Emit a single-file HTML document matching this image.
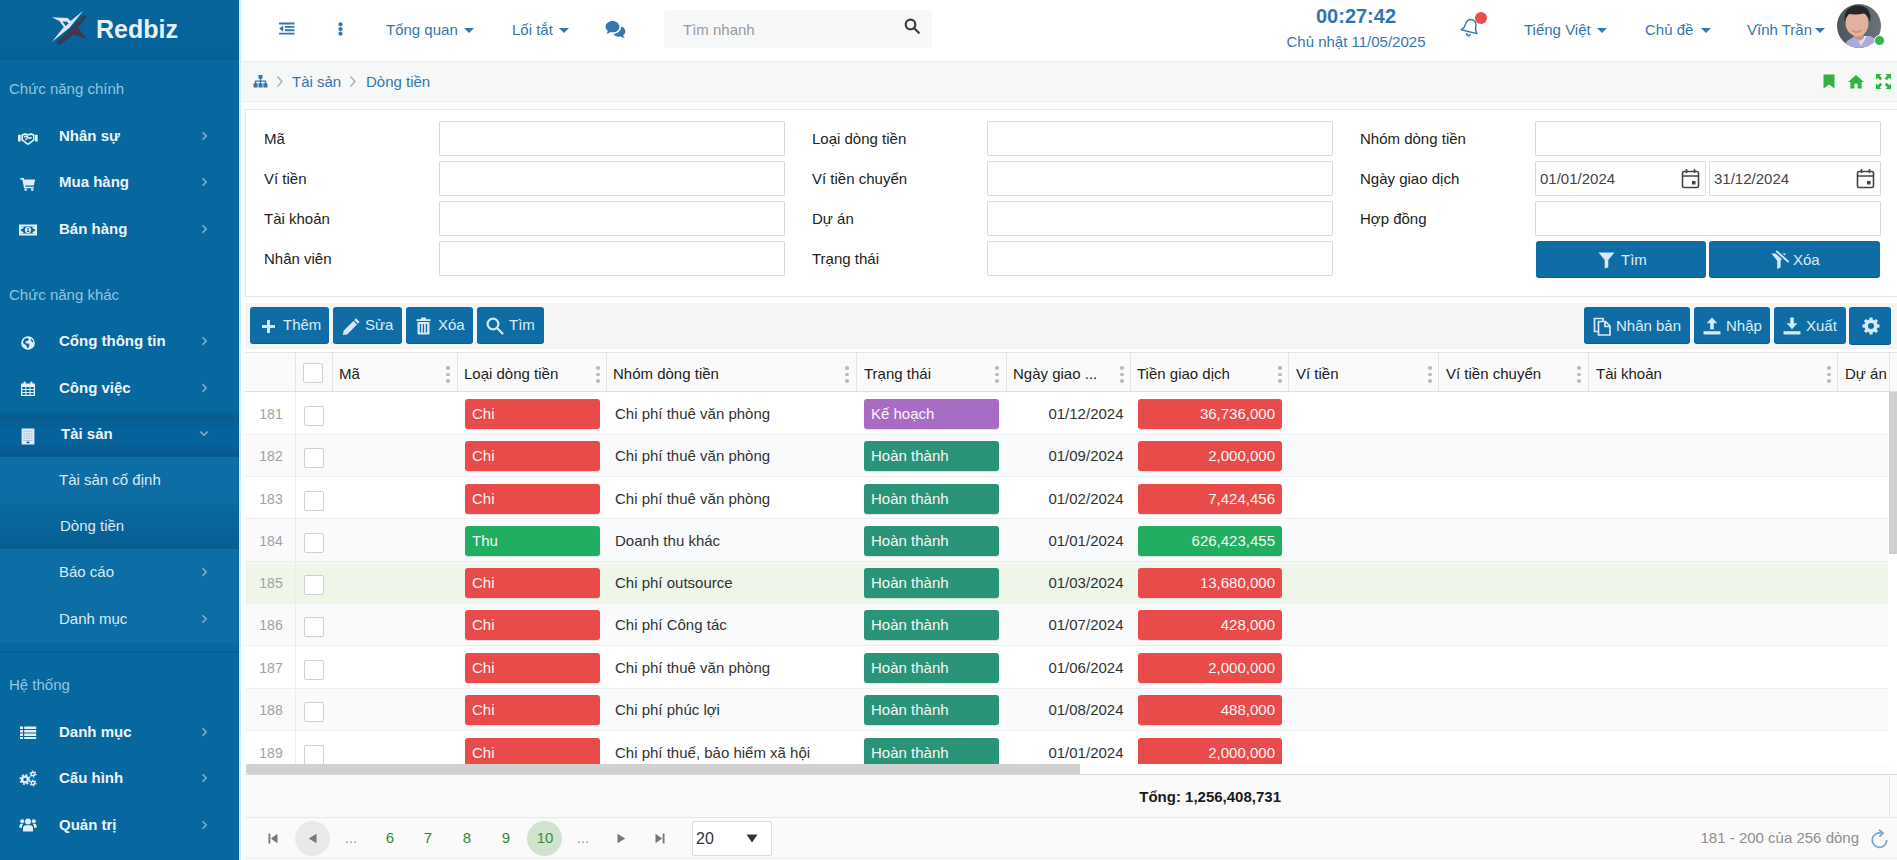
<!DOCTYPE html>
<html lang="vi">
<head>
<meta charset="utf-8">
<title>Redbiz - Dòng tiền</title>
<style>
*{box-sizing:border-box;margin:0;padding:0}
html,body{width:1897px;height:860px;overflow:hidden}
body{font-family:"Liberation Sans",sans-serif;font-size:15px;color:#222;background:#fff;position:relative}
.abs{position:absolute}
/* ---------- sidebar ---------- */
#side{position:absolute;left:0;top:0;width:239px;height:860px;background:#06689f;color:#fff;overflow:hidden}
#side .brand{position:absolute;left:0;top:0;width:239px;height:60px;background:linear-gradient(#06659c 0,#06649b 70%,#075f94 100%)}
#side .brand .name{position:absolute;left:96px;top:14px;font-size:25px;font-weight:bold;color:#e6f1f8;line-height:30px}
#side .sec{position:absolute;left:9px;font-size:15px;color:#93c4e0;line-height:18px;white-space:nowrap}
#side .mi{position:absolute;left:0;width:239px;height:46px}
#side .mi .t{position:absolute;left:59px;top:13px;font-size:15px;font-weight:bold;line-height:20px;color:#eef5fa;white-space:nowrap}
#side .mi.sub .t{font-weight:normal;color:#dbe9f3}
#side .mi svg.ic{position:absolute;left:18px;top:14px;width:20px;height:18px;fill:#e3eef6}
#side .mi svg.ch{position:absolute;left:200px;top:17px;width:9px;height:12px;fill:none;stroke:#7fb0cf;stroke-width:1.6}
#side .act{background:linear-gradient(#07659b 0,#065c90 14%,#06629a 38%,#06629a 68%,#065a8e 100%)}
#side .sub.act{background:linear-gradient(#0a699f 0,#08649b 50%,#065d91 100%)}
#side .subbg{position:absolute;left:0;width:239px;background:#0c6ea4}
/* ---------- topbar ---------- */
#top{position:absolute;left:239px;top:0;width:1658px;height:62px;background:#fff;border-bottom:1px solid #e9ebec}
#top .lnk{position:absolute;top:20px;font-size:15px;color:#3576b0;line-height:20px;white-space:nowrap}
#top .car{display:inline-block;width:0;height:0;border-left:5px solid transparent;border-right:5px solid transparent;border-top:5px solid #3576b0;margin-left:6px;vertical-align:2px}
#crumb{position:absolute;left:239px;top:62px;width:1658px;height:40px;background:#f6f7f7;border-bottom:1px solid #ebecec}
#crumb .c{position:absolute;top:10px;font-size:15px;color:#3576b0;line-height:20px;white-space:nowrap}
/* ---------- filter ---------- */
#filter{position:absolute;left:245px;top:109px;width:1660px;height:188px;background:#fff;border:1px solid #e4e7e9}
.lb{position:absolute;font-size:15px;line-height:20px;color:#222;white-space:nowrap}
.in{position:absolute;height:35px;background:#fff;border:1px solid #d9dbdd;border-radius:1px;font-size:15px;line-height:33px;color:#444;padding-left:4px}
.btn{position:absolute;background:#0e6da4;border-radius:3px;color:#dcecf6;font-size:15px;line-height:20px;white-space:nowrap;box-shadow:0 1px 0 #0a5d8e}
.btn span{position:absolute;top:8px}
.btn svg{position:absolute;fill:#d6e8f4}
/* ---------- grid ---------- */
#ghead{position:absolute;left:245px;top:352px;width:1652px;height:40px;background:#fafafa;border-top:1px solid #e3e5e6;border-bottom:1px solid #dcdfe0}
.h{position:absolute;top:364px;font-size:15px;line-height:20px;color:#222;white-space:nowrap}
.sp{position:absolute;top:353px;width:1px;height:38px;background:#e2e4e5}
.dt{position:absolute;top:366px;width:3px;height:16px}
.dt i{position:absolute;left:-0.250px;width:3.500px;height:3.500px;border-radius:50%;background:#bababa}
.cb{position:absolute;width:20px;height:20px;background:#fff;border:1px solid #d0d0d0;border-radius:2px}
#rows{position:absolute;left:245px;top:392px;width:1643px;height:372px;overflow:hidden;background:#fff}
.row{position:absolute;left:0;width:1644px;border-bottom:1px solid #edeff0;font-size:15px;line-height:20px;color:#333}
.row.alt{background:#f8fafc}
.row.sel{background:linear-gradient(#f3f8f0 0,#eef6ea 25%,#eef6ea 100%)}
.row .n{position:absolute;left:1px;top:12px;width:50px;text-align:center;color:#a2a2a2;font-size:14px}
.row .nb{position:absolute;left:50px;top:0;width:1px;height:43px;background:#ebedef}
.row .tag{position:absolute;top:7px;height:30px;border-radius:3px;color:#f6f6f6;line-height:30px;padding:0 7px;box-shadow:0 1px 1px rgba(0,0,0,.12)}
.row .tx{position:absolute;top:12px;white-space:nowrap}
.red{background:#e94b4b}.grn{background:#22ae60}.pur{background:#a86cc4}.teal{background:#2a9478}
/* ---------- pager ---------- */
#pager{position:absolute;left:0;top:819px;width:1897px;height:41px;font-size:15px;line-height:20px}
#pager .pn{position:absolute;top:9px;width:36px;text-align:center;color:#2e8b3a;font-size:15px}
#pager .dots{position:absolute;top:9px;width:36px;text-align:center;color:#999}
#pager .circ{position:absolute;top:1.500px;width:35px;height:35px;border-radius:50%}
#pager svg{position:absolute;fill:#777}
</style>
</head>
<body>
<div id="side">
  <div class="brand">
    <svg class="abs" style="left:51px;top:10px" width="38" height="37" viewBox="0 0 38 37">
      <path d="M33.500 5.500 L35.800 6 L27 18 L36.400 29.800 L22.700 24.500 L8.600 35.300 L6 33.500 Z" fill="#3c3a4c"/>
      <path d="M4.500 32.500 L32.500 4.500 L34 5.500 L6.500 33.800 Z" fill="#114f6e"/>
      <path d="M0.800 7.200 L16.600 8 L19.600 11 L32.200 0.800 L18.500 17.800 L1 31.800 L12.800 17 L8.400 11 Z" fill="#dfe5ee"/>
      <path d="M11.500 11.600 L16.200 11.800 L17.600 13.400 L14.600 16 Z" fill="#06649b"/>
    </svg>
    <div class="name">Redbiz</div>
  </div>
  <div class="mi" style="top:113px"><svg class="ic" style="top:14.5px" viewBox="0 0 20 18"><path d="M0 6.800h2.700v6.600H0z M17 6.800h2.700v6.600H17z"/><path d="M3.300 6.600 L7 5.100 L10 5.900 L13 5.100 L16.500 6.600 V12.200 L11.600 16.200 Q10 17.300 8.400 16.200 L3.300 12.200 Z M5 7.800 V11.400 L9.400 14.900 Q10 15.300 10.600 14.900 L15 11.400 V7.800 L13 6.900 L10 7.700 L7 6.900 Z" fill-rule="evenodd"/><path d="M6.200 9.200 Q8 7.200 9.800 9.200 T13.600 9.200" fill="none" stroke="#e3eef6" stroke-width="1.500"/><path d="M9.800 9.200 L7.600 12" fill="none" stroke="#e3eef6" stroke-width="1.300"/></svg><div class="t">Nhân sự</div><svg class="ch" viewBox="0 0 9 12"><path d="M2.500 2.300 L6.200 6 L2.500 9.700"/></svg></div>
  <div class="mi" style="top:159px"><svg class="ic" viewBox="0 0 20 18"><path d="M2.200 5h3.500l.5 1.600H17.200l-1.400 5.900H7.300l.3 1.200h8.200v1.500H6.100L4.300 6.600H2.200z"/><rect x="6.400" y="15.400" width="2.500" height="2.300" rx=".6"/><rect x="13" y="15.400" width="2.500" height="2.300" rx=".6"/></svg><div class="t">Mua hàng</div><svg class="ch" viewBox="0 0 9 12"><path d="M2.500 2.300 L6.200 6 L2.500 9.700"/></svg></div>
  <div class="mi" style="top:206px"><svg class="ic" style="top:14.5px" viewBox="0 0 20 18"><path d="M1 3.500h18v11H1z M3 5.500v7h14v-7z" fill-rule="evenodd"/><path d="M3 5.500h2.600a2.600 2.600 0 0 1-2.600 2.600z M17 5.500h-2.600a2.600 2.600 0 0 0 2.600 2.600z M3 12.500h2.600a2.600 2.600 0 0 0-2.600-2.600z M17 12.500h-2.600a2.600 2.600 0 0 1 2.600-2.600z"/><path d="M10 5.900a3.100 3.100 0 1 0 0 6.200a3.100 3.100 0 1 0 0-6.200z M9.100 7.600l.9-.5h.6v3h.7v.8H8.900v-.8h.8V8.200l-.6.300z" fill-rule="evenodd"/></svg><div class="t">Bán hàng</div><svg class="ch" viewBox="0 0 9 12"><path d="M2.500 2.300 L6.200 6 L2.500 9.700"/></svg></div>
  <div class="mi" style="top:318px"><svg class="ic" style="top:16px" viewBox="0 0 20 18"><path d="M10 2.200a6.800 6.800 0 1 0 0 13.600a6.800 6.800 0 1 0 0-13.600z M7 4.500 L9.500 4 L11 5.500 L9.500 7 L8.200 7 L7.200 8.400 L8.600 9.600 L10.500 9.600 L11.600 11 L10.600 13.600 L9.400 14.200 L8.600 12 L7.400 10.800 L5.400 9.600 L5 7.400 Z M12.600 4.400 L14.800 6.200 L15.400 8.600 L14 8 L13 6.400 Z" fill-rule="evenodd"/></svg><div class="t">Cổng thông tin</div><svg class="ch" viewBox="0 0 9 12"><path d="M2.500 2.300 L6.200 6 L2.500 9.700"/></svg></div>
  <div class="mi" style="top:365px"><svg class="ic" style="top:14.5px" viewBox="0 0 20 18"><path d="M3 3.600h14V16H3z M4.300 7h3v2.100h-3z M8.300 7h3.200v2.100H8.300z M12.500 7h3.200v2.100h-3.200z M4.300 10h3v2.100h-3z M8.300 10h3.200v2.100H8.300z M12.500 10h3.200v2.100h-3.200z M4.300 13h3v1.800h-3z M8.300 13h3.200v1.800H8.300z M12.500 13h3.200v1.800h-3.200z" fill-rule="evenodd"/><rect x="5.600" y="1.400" width="2" height="4" rx="1"/><rect x="12.400" y="1.400" width="2" height="4" rx="1"/></svg><div class="t">Công việc</div><svg class="ch" viewBox="0 0 9 12"><path d="M2.500 2.300 L6.200 6 L2.500 9.700"/></svg></div>
  <div class="mi act" style="top:411px"><svg class="ic" style="top:15.5px" viewBox="0 0 20 18"><rect x="3.600" y="1.500" width="12.800" height="16" rx=".5"/><rect x="5.3" y="3.4" width="1.700" height="1.500" fill="#08619a" fill-opacity=".28"/><rect x="7.8" y="3.4" width="1.700" height="1.500" fill="#08619a" fill-opacity=".28"/><rect x="10.3" y="3.4" width="1.700" height="1.500" fill="#08619a" fill-opacity=".28"/><rect x="12.8" y="3.4" width="1.700" height="1.500" fill="#08619a" fill-opacity=".28"/><rect x="5.3" y="5.8" width="1.700" height="1.500" fill="#08619a" fill-opacity=".28"/><rect x="7.8" y="5.8" width="1.700" height="1.500" fill="#08619a" fill-opacity=".28"/><rect x="10.3" y="5.8" width="1.700" height="1.500" fill="#08619a" fill-opacity=".28"/><rect x="12.8" y="5.8" width="1.700" height="1.500" fill="#08619a" fill-opacity=".28"/><rect x="5.3" y="8.2" width="1.700" height="1.500" fill="#08619a" fill-opacity=".28"/><rect x="7.8" y="8.2" width="1.700" height="1.500" fill="#08619a" fill-opacity=".28"/><rect x="10.3" y="8.2" width="1.700" height="1.500" fill="#08619a" fill-opacity=".28"/><rect x="12.8" y="8.2" width="1.700" height="1.500" fill="#08619a" fill-opacity=".28"/><rect x="5.3" y="10.6" width="1.700" height="1.500" fill="#08619a" fill-opacity=".28"/><rect x="7.8" y="10.6" width="1.700" height="1.500" fill="#08619a" fill-opacity=".28"/><rect x="10.3" y="10.6" width="1.700" height="1.500" fill="#08619a" fill-opacity=".28"/><rect x="12.8" y="10.6" width="1.700" height="1.500" fill="#08619a" fill-opacity=".28"/><rect x="5.300" y="13" width="9.200" height=".9" fill="#08619a" fill-opacity=".3"/><rect x="8.600" y="14.600" width="2.800" height="1.600" fill="#08619a"/></svg><div class="t" style="left:61px">Tài sản</div><svg class="ch" style="left:198px;top:18px;width:12px;height:9px" viewBox="0 0 12 9"><path d="M2.300 2.500 L6 6.200 L9.700 2.500"/></svg></div>
  <div class="subbg" style="top:457px;height:186px"></div>
  <div class="mi sub" style="top:457px"><div class="t">Tài sản cố định</div></div>
  <div class="mi sub act" style="top:503px"><div class="t" style="left:60px">Dòng tiền</div></div>
  <div class="mi sub" style="top:549px"><div class="t">Báo cáo</div><svg class="ch" viewBox="0 0 9 12"><path d="M2.500 2.300 L6.200 6 L2.500 9.700"/></svg></div>
  <div class="mi sub" style="top:596px"><div class="t">Danh mục</div><svg class="ch" viewBox="0 0 9 12"><path d="M2.500 2.300 L6.200 6 L2.500 9.700"/></svg></div>
  <div class="abs" style="left:0;top:651px;width:239px;height:2px;background:#075f95"></div>
  <div class="mi" style="top:709px"><svg class="ic" viewBox="0 0 20 18"><path d="M2 3.400h3v2.600H2z M6.200 3.400h12v2.600h-12z M2 6.900h3v2.600H2z M6.200 6.900h12v2.600h-12z M2 10.400h3V13H2z M6.200 10.400h12V13h-12z M2 13.900h3v2.200H2z M6.200 13.900h12v2.200h-12z"/></svg><div class="t">Danh mục</div><svg class="ch" viewBox="0 0 9 12"><path d="M2.500 2.300 L6.200 6 L2.500 9.700"/></svg></div>
  <div class="mi" style="top:755px"><svg class="ic" viewBox="0 0 20 18" style="fill:none;stroke:#e3eef6"><circle cx="7" cy="10.500" r="2.900" stroke-width="2.400"/><circle cx="7" cy="10.500" r="4.700" stroke-width="1.700" stroke-dasharray="1.900 1.790"/><circle cx="15" cy="5" r="1.700" stroke-width="1.500"/><circle cx="15" cy="5" r="2.900" stroke-width="1.300" stroke-dasharray="1.500 1.540"/><circle cx="15" cy="14" r="1.700" stroke-width="1.500"/><circle cx="15" cy="14" r="2.900" stroke-width="1.300" stroke-dasharray="1.500 1.540"/></svg><div class="t">Cấu hình</div><svg class="ch" viewBox="0 0 9 12"><path d="M2.500 2.300 L6.200 6 L2.500 9.700"/></svg></div>
  <div class="mi" style="top:802px"><svg class="ic" viewBox="0 0 20 18"><circle cx="10" cy="5.400" r="3"/><path d="M5 15.600v-3.200Q5 9.200 8 9.200h4q3 0 3 3.200v3.200z"/><circle cx="4.200" cy="5.200" r="2"/><circle cx="15.800" cy="5.200" r="2"/><path d="M1.400 11.800V10Q1.400 7.800 3.400 7.800h1.800Q4 9 4 11v.8z M18.600 11.800V10Q18.600 7.800 16.600 7.800h-1.800Q16 9 16 11v.8z"/></svg><div class="t">Quản trị</div><svg class="ch" viewBox="0 0 9 12"><path d="M2.500 2.300 L6.200 6 L2.500 9.700"/></svg></div>
  <div class="sec" style="top:80px">Chức năng chính</div>
  <div class="sec" style="top:286px">Chức năng khác</div>
  <div class="sec" style="top:676px">Hệ thống</div>
</div>
<div class="abs" style="left:239px;top:0;width:1.500px;height:860px;background:#cdeffd;z-index:5"></div>
<div id="top">
  <svg class="abs" style="left:40px;top:22px" width="15.500" height="13" viewBox="0 0 17 14" fill="#3576b0"><path d="M0 0.500h17v2H0z M6.500 4.200h10.500v2H6.500z M6.500 7.900h10.500v2H6.500z M0 11.600h17v2H0z M4.600 3.600v6.900L0.300 7z"/></svg>
  <svg class="abs" style="left:98.500px;top:22px" width="5" height="14" viewBox="0 0 5 14" fill="#3576b0"><circle cx="2.500" cy="2.300" r="2.100"/><circle cx="2.500" cy="7" r="2.100"/><circle cx="2.500" cy="11.700" r="2.100"/></svg>
  <div class="lnk" style="left:147px">Tổng quan<span class="car"></span></div>
  <div class="lnk" style="left:273px">Lối tắt<span class="car"></span></div>
  <svg class="abs" style="left:366px;top:20px" width="21" height="20" viewBox="0 0 21 17.500" preserveAspectRatio="none" fill="#3576b0"><path d="M7.500 0.800C3.600 0.800 0.600 3 0.600 5.800c0 1.500 .9 2.800 2.300 3.700-.2 .9-.8 1.700-1.500 2.300 1.500 0 2.900-.6 3.900-1.400 .7 .2 1.400 .3 2.200 .3 3.900 0 6.900-2.200 6.900-4.900S11.400 .800 7.500 .800z"/><path d="M16 6.400c0 3.200-3.400 5.700-7.800 5.900 1.200 1.400 3.300 2.300 5.600 2.300 .7 0 1.400-.1 2-.3 1 .9 2.400 1.500 3.900 1.500-.7-.6-1.300-1.500-1.500-2.400 1.300-.8 2.100-2 2.100-3.400 0-1.700-1.200-3.200-3-4 .1 .1-.1 .3-1.300 .4z"/></svg>
  <div class="abs" style="left:425px;top:10px;width:268px;height:38px;background:#f6f7f7;border-radius:3px"></div>
  <div class="abs" style="left:444px;top:20px;font-size:15px;line-height:20px;color:#9a9a9a">Tìm nhanh</div>
  <svg class="abs" style="left:665px;top:18px" width="16" height="16" viewBox="0 0 16 16" fill="none" stroke="#3d3d3d" stroke-width="2.200"><circle cx="6.500" cy="6.500" r="4.800"/><path d="M10 10 L14.800 14.800" stroke-linecap="round"/></svg>
  <div class="abs" style="left:1017px;top:3px;width:200px;text-align:center;font-size:20px;font-weight:bold;line-height:26px;color:#2e75b6">00:27:42</div>
  <div class="abs" style="left:1017px;top:33px;width:200px;text-align:center;font-size:15px;line-height:18px;color:#3576b0">Chủ nhật 11/05/2025</div>
  <svg class="abs" style="left:1220px;top:17px" width="22" height="22" viewBox="0 0 22 22" fill="none" stroke="#3576b0" stroke-width="1.500" stroke-linejoin="round"><g transform="rotate(14 11 11)"><path d="M11 2.500c-3.200 0-5.200 2.400-5.200 5.600 0 3.600-1.200 5.200-2.800 6.700h16c-1.600-1.500-2.800-3.100-2.800-6.700 0-3.200-2-5.600-5.200-5.600z"/><path d="M9 16.800a2 2 0 0 0 4 0" /></g></svg>
  <div class="abs" style="left:1236px;top:12px;width:12px;height:12px;border-radius:50%;background:#ee4b4b"></div>
  <div class="lnk" style="left:1285px">Tiếng Việt<span class="car"></span></div>
  <div class="lnk" style="left:1406px">Chủ đề<span class="car" style="margin-left:7.500px"></span></div>
  <div class="lnk" style="left:1508px">Vĩnh Trần<span class="car" style="margin-left:3px"></span></div>
  <svg class="abs" style="left:1597px;top:3px" width="46" height="46" viewBox="0 0 46 46">
    <defs><clipPath id="av"><circle cx="23" cy="23" r="22"/></clipPath>
    <linearGradient id="avb" x1="0" x2="1"><stop offset="0" stop-color="#4c555b"/><stop offset="1" stop-color="#6a7379"/></linearGradient></defs>
    <g clip-path="url(#av)">
      <rect width="46" height="46" fill="url(#avb)"/>
      <path d="M8 46 L11 38 L19 33 L34 33 L42 37 L45 46 Z" fill="#a9abd9"/>
      <path d="M20 33 L25 43 L31 33 Z" fill="#dcdff0"/>
      <path d="M16.500 26 L27 26 L28 35 L24 38 L18 34 Z" fill="#c9917c"/>
      <ellipse cx="21" cy="20" rx="11.500" ry="13.500" fill="#e2b09c" transform="rotate(-6 21 20)"/>
      <path d="M9 19 Q6.500 5 20 2.500 Q33 1.500 34.500 13 L34 19 Q32 12 28 10.500 Q20 12 13 11 Q10 14 9 19z" fill="#25262b"/>
      <path d="M16 27.500 Q21 31 26 27" fill="none" stroke="#b9776a" stroke-width="1"/>
    </g>
  </svg>
  <div class="abs" style="left:1635px;top:34.500px;width:11px;height:11px;border-radius:50%;background:#2fb552;border:1px solid #fff"></div>
</div>
<div id="crumb">
  <svg class="abs" style="left:14px;top:13px" width="15" height="13" viewBox="0 0 16 14" fill="#3576b0"><path d="M5.800 0h4.400v4H8.700v1.800h5.400V9H15.500v4.500h-4.400V9h1.500V7.200H8.700V9h1.500v4.500H5.800V9h1.500V7.200H3.400V9h1.500v4.500H.5V9h1.500V5.800h5.300V4H5.800z"/></svg>
  <svg class="abs" style="left:37px;top:13px" width="8" height="13" viewBox="0 0 8 13" fill="none" stroke="#a9b1b6" stroke-width="1.400"><path d="M1.500 1.500 L6 6.500 L1.500 11.500"/></svg>
  <div class="c" style="left:53px">Tài sản</div>
  <svg class="abs" style="left:110px;top:13px" width="8" height="13" viewBox="0 0 8 13" fill="none" stroke="#a9b1b6" stroke-width="1.400"><path d="M1.500 1.500 L6 6.500 L1.500 11.500"/></svg>
  <div class="c" style="left:127px">Dòng tiền</div>
  <svg class="abs" style="left:1584px;top:12px" width="12" height="15" viewBox="0 0 12 15" fill="#2fb344"><path d="M0.500 0.500h11v14L6 10.500 0.500 14.500z"/></svg>
  <svg class="abs" style="left:1609px;top:11.500px" width="16" height="15" viewBox="0 0 17 15" fill="#2fb344"><path d="M8.500 0.500 L17 8 H14.500 V15 H10.300 V10 H6.700 V15 H2.500 V8 H0 Z"/></svg>
  <svg class="abs" style="left:1637px;top:12px" width="15" height="15" viewBox="0 0 15 15" fill="#2fb344"><path d="M0 0h5.500L3.700 1.800 6.200 4.300 4.300 6.200 1.800 3.700 0 5.500z M15 0v5.500L13.200 3.700 10.700 6.200 8.800 4.300 11.300 1.800 9.500 0z M0 15V9.500L1.800 11.300 4.300 8.800 6.200 10.700 3.700 13.200 5.500 15z M15 15H9.500L11.300 13.200 8.800 10.700 10.700 8.800 13.200 11.300 15 9.500z"/></svg>
</div>
<div id="filter">
<div class="lb" style="left:18px;top:19px">Mã</div><div class="in" style="left:193px;top:11px;width:346px"></div>
<div class="lb" style="left:18px;top:59px">Ví tiền</div><div class="in" style="left:193px;top:51px;width:346px"></div>
<div class="lb" style="left:18px;top:99px">Tài khoản</div><div class="in" style="left:193px;top:91px;width:346px"></div>
<div class="lb" style="left:18px;top:139px">Nhân viên</div><div class="in" style="left:193px;top:131px;width:346px"></div>
<div class="lb" style="left:566px;top:19px">Loại dòng tiền</div><div class="in" style="left:741px;top:11px;width:346px"></div>
<div class="lb" style="left:566px;top:59px">Ví tiền chuyển</div><div class="in" style="left:741px;top:51px;width:346px"></div>
<div class="lb" style="left:566px;top:99px">Dự án</div><div class="in" style="left:741px;top:91px;width:346px"></div>
<div class="lb" style="left:566px;top:139px">Trạng thái</div><div class="in" style="left:741px;top:131px;width:346px"></div>
<div class="lb" style="left:1114px;top:19px">Nhóm dòng tiền</div><div class="in" style="left:1289px;top:11px;width:346px"></div>
<div class="lb" style="left:1114px;top:59px">Ngày giao dịch</div><div class="in" style="left:1289px;top:51px;width:171px">01/01/2024</div><div class="in" style="left:1463px;top:51px;width:172px">31/12/2024</div>
<div class="lb" style="left:1114px;top:99px">Hợp đồng</div><div class="in" style="left:1289px;top:91px;width:346px"></div>
<svg class="abs" style="left:1435px;top:58px" width="19" height="21" viewBox="0 0 19 21" fill="none" stroke="#444" stroke-width="1.600"><rect x="1.500" y="3.500" width="16" height="16" rx="1.500"/><path d="M1.500 8h16 M5.500 1v4 M13.500 1v4"/><rect x="11" y="13" width="3.500" height="3.500" fill="#444" stroke="none"/></svg><svg class="abs" style="left:1610px;top:58px" width="19" height="21" viewBox="0 0 19 21" fill="none" stroke="#444" stroke-width="1.600"><rect x="1.500" y="3.500" width="16" height="16" rx="1.500"/><path d="M1.500 8h16 M5.500 1v4 M13.500 1v4"/><rect x="11" y="13" width="3.500" height="3.500" fill="#444" stroke="none"/></svg>
<div class="btn" style="left:1290px;top:131px;width:170px;height:36px"><svg style="left:62px;top:11px" width="17" height="17" viewBox="0 0 17 17"><path d="M0.500 0.500h16L10.300 8v7.200l-3.600 1.300V8z"/></svg><span style="left:85px;top:8.500px">Tìm</span></div>
<div class="btn" style="left:1463px;top:131px;width:171px;height:36px"><svg style="left:61px;top:9px;overflow:visible" width="19" height="19" viewBox="0 0 19 19"><path d="M1.300 3.400h14.800L10.600 10.800v6.600l-3.400 1.600V10.800z"/><path d="M5.800 0.600 L18.600 12" stroke="#0e6da4" stroke-width="4.600" fill="none"/><path d="M6.300 1 L18.600 12" stroke="#d6e8f4" stroke-width="1.900" fill="none"/></svg><span style="left:84px;top:8.500px">Xóa</span></div>
</div>
<div class="abs" style="left:245px;top:303px;width:1652px;height:46px;background:#f4f5f5"></div>
<div class="btn" style="left:250px;top:307px;width:79px;height:36px"><svg style="left:12px;top:13px" width="13" height="13" viewBox="0 0 13 13"><path d="M5 0h3v5h5v3H8v5H5V8H0V5h5z"/></svg><span style="left:33px;top:8px">Thêm</span></div>
<div class="btn" style="left:333px;top:307px;width:69px;height:36px"><svg style="left:9px;top:9.5px" width="19" height="19" viewBox="0 0 17 17"><path d="M12.600 1.200 L15.800 4.400 L14.200 6 L11 2.800z M10.200 3.600 L13.400 6.800 L4.600 15.600 L0.800 16.200 L1.400 12.400z"/></svg><span style="left:32px;top:8px">Sửa</span></div>
<div class="btn" style="left:406px;top:307px;width:67px;height:36px"><svg style="left:10px;top:10px" width="15" height="18" viewBox="0 0 15 18"><path d="M5 0.500h5v1.700h4.500v1.800H0.500V2.200H5z M1.500 5h12v11.500q0 1-1 1h-10q-1 0-1-1z M3.800 7v8.500h1.300V7z M6.800 7v8.500h1.300V7z M9.800 7v8.500h1.300V7z" fill-rule="evenodd"/></svg><span style="left:32px;top:8px">Xóa</span></div>
<div class="btn" style="left:477px;top:307px;width:67px;height:36px"><svg style="left:9px;top:10px;fill:none;stroke:#d6e8f4;stroke-width:2.200" width="18" height="18" viewBox="0 0 18 18"><circle cx="7" cy="7" r="5.400"/><path d="M11 11 L16.500 16.500" stroke-linecap="round"/></svg><span style="left:32px;top:8px">Tìm</span></div>
<div class="btn" style="left:1584px;top:307px;width:106px;height:36px"><svg style="left:9px;top:9.5px;fill:none;stroke:#d6e8f4;stroke-width:1.700" width="19" height="19" viewBox="0 0 19 19"><path d="M5 14.500H1.500V1.500H10V4"/><path d="M5.500 4.500h7l4.500 4.500v9h-11.500z M12 4.500v5h5"/></svg><span style="left:32px;top:9px">Nhân bản</span></div>
<div class="btn" style="left:1694px;top:307px;width:76px;height:36px"><svg style="left:9px;top:10px" width="18" height="18" viewBox="0 0 17 17"><path d="M8.500 0.500 L13.500 6 H10.200 V11.500 H6.800 V6 H3.500z M0.500 13.500h16v3h-16z"/></svg><span style="left:32px;top:9px">Nhập</span></div>
<div class="btn" style="left:1774px;top:307px;width:72px;height:36px"><svg style="left:9px;top:10px" width="18" height="18" viewBox="0 0 17 17"><path d="M6.800 0.500h3.400V6H13.500L8.500 11.500 3.500 6h3.300z M0.500 13.500h16v3h-16z"/></svg><span style="left:32px;top:9px">Xuất</span></div>
<div class="btn" style="left:1849px;top:307px;width:42px;height:37px"><svg style="left:12.5px;top:10px" width="18" height="18" viewBox="0 0 19 19"><path d="M8 0.500h3l.4 2.300 1.500.6 1.900-1.300 2.100 2.100-1.300 1.900.6 1.500 2.300.4v3l-2.300.4-.6 1.500 1.300 1.900-2.100 2.100-1.900-1.300-1.500.6-.4 2.300H8l-.4-2.300-1.500-.6-1.900 1.300-2.100-2.100 1.300-1.900-.6-1.500L.5 11V8l2.300-.4.6-1.500-1.300-1.900 2.100-2.100 1.900 1.300 1.500-.6z M9.500 6.300a3.200 3.200 0 1 0 0 6.400a3.200 3.200 0 1 0 0-6.400z" fill-rule="evenodd"/></svg><span style="left:0px;top:8px"></span></div>
<div id="ghead"></div>
<div class="sp" style="left:295px"></div><div class="sp" style="left:332px"></div><div class="sp" style="left:457px"></div><div class="sp" style="left:606px"></div><div class="sp" style="left:856px"></div><div class="sp" style="left:1006px"></div><div class="sp" style="left:1130px"></div><div class="sp" style="left:1288px"></div><div class="sp" style="left:1438px"></div><div class="sp" style="left:1588px"></div><div class="sp" style="left:1837px"></div><div class="sp" style="left:1889px"></div>
<div class="h" style="left:339px">Mã</div><div class="h" style="left:464px">Loại dòng tiền</div><div class="h" style="left:613px">Nhóm dòng tiền</div><div class="h" style="left:864px">Trạng thái</div><div class="h" style="left:1013px">Ngày giao ...</div><div class="h" style="left:1137px">Tiền giao dịch</div><div class="h" style="left:1296px">Ví tiền</div><div class="h" style="left:1446px">Ví tiền chuyển</div><div class="h" style="left:1596px">Tài khoản</div><div class="h" style="left:1845px">Dự án</div>
<div class="dt" style="left:446.5px"><i style="top:0"></i><i style="top:6.500px"></i><i style="top:13px"></i></div><div class="dt" style="left:596.5px"><i style="top:0"></i><i style="top:6.500px"></i><i style="top:13px"></i></div><div class="dt" style="left:845.5px"><i style="top:0"></i><i style="top:6.500px"></i><i style="top:13px"></i></div><div class="dt" style="left:995.5px"><i style="top:0"></i><i style="top:6.500px"></i><i style="top:13px"></i></div><div class="dt" style="left:1120.5px"><i style="top:0"></i><i style="top:6.500px"></i><i style="top:13px"></i></div><div class="dt" style="left:1278.5px"><i style="top:0"></i><i style="top:6.500px"></i><i style="top:13px"></i></div><div class="dt" style="left:1428.5px"><i style="top:0"></i><i style="top:6.500px"></i><i style="top:13px"></i></div><div class="dt" style="left:1577.5px"><i style="top:0"></i><i style="top:6.500px"></i><i style="top:13px"></i></div><div class="dt" style="left:1827.5px"><i style="top:0"></i><i style="top:6.500px"></i><i style="top:13px"></i></div>
<div class="cb" style="left:303px;top:363px"></div>
<div id="rows">
<div class="row" style="top:0px;height:43px"><div class="n" style="top:12px">181</div><div class="nb"></div><div class="cb" style="left:59px;top:14px"></div><div class="tag red" style="left:220px;top:7px;width:134.500px">Chi</div><div class="tx" style="left:370px;top:12px">Chi phí thuê văn phòng</div><div class="tag pur" style="left:619px;top:7px;width:135px">Kế hoạch</div><div class="tx" style="left:761px;top:12px;width:117.500px;text-align:right">01/12/2024</div><div class="tag red" style="left:893px;top:7px;width:144px;text-align:right">36,736,000</div></div>
<div class="row alt" style="top:43px;height:42px"><div class="n" style="top:11px">182</div><div class="nb"></div><div class="cb" style="left:59px;top:13px"></div><div class="tag red" style="left:220px;top:6px;width:134.500px">Chi</div><div class="tx" style="left:370px;top:11px">Chi phí thuê văn phòng</div><div class="tag teal" style="left:619px;top:6px;width:135px">Hoàn thành</div><div class="tx" style="left:761px;top:11px;width:117.500px;text-align:right">01/09/2024</div><div class="tag red" style="left:893px;top:6px;width:144px;text-align:right">2,000,000</div></div>
<div class="row" style="top:85px;height:42px"><div class="n" style="top:12px">183</div><div class="nb"></div><div class="cb" style="left:59px;top:14px"></div><div class="tag red" style="left:220px;top:7px;width:134.500px">Chi</div><div class="tx" style="left:370px;top:12px">Chi phí thuê văn phòng</div><div class="tag teal" style="left:619px;top:7px;width:135px">Hoàn thành</div><div class="tx" style="left:761px;top:12px;width:117.500px;text-align:right">01/02/2024</div><div class="tag red" style="left:893px;top:7px;width:144px;text-align:right">7,424,456</div></div>
<div class="row alt" style="top:127px;height:43px"><div class="n" style="top:12px">184</div><div class="nb"></div><div class="cb" style="left:59px;top:14px"></div><div class="tag grn" style="left:220px;top:7px;width:134.500px">Thu</div><div class="tx" style="left:370px;top:12px">Doanh thu khác</div><div class="tag teal" style="left:619px;top:7px;width:135px">Hoàn thành</div><div class="tx" style="left:761px;top:12px;width:117.500px;text-align:right">01/01/2024</div><div class="tag grn" style="left:893px;top:7px;width:144px;text-align:right">626,423,455</div></div>
<div class="row sel" style="top:170px;height:42px"><div class="n" style="top:11px">185</div><div class="nb"></div><div class="cb" style="left:59px;top:13px"></div><div class="tag red" style="left:220px;top:6px;width:134.500px">Chi</div><div class="tx" style="left:370px;top:11px">Chi phí outsource</div><div class="tag teal" style="left:619px;top:6px;width:135px">Hoàn thành</div><div class="tx" style="left:761px;top:11px;width:117.500px;text-align:right">01/03/2024</div><div class="tag red" style="left:893px;top:6px;width:144px;text-align:right">13,680,000</div></div>
<div class="row alt" style="top:212px;height:42px"><div class="n" style="top:11px">186</div><div class="nb"></div><div class="cb" style="left:59px;top:13px"></div><div class="tag red" style="left:220px;top:6px;width:134.500px">Chi</div><div class="tx" style="left:370px;top:11px">Chi phí Công tác</div><div class="tag teal" style="left:619px;top:6px;width:135px">Hoàn thành</div><div class="tx" style="left:761px;top:11px;width:117.500px;text-align:right">01/07/2024</div><div class="tag red" style="left:893px;top:6px;width:144px;text-align:right">428,000</div></div>
<div class="row" style="top:254px;height:43px"><div class="n" style="top:12px">187</div><div class="nb"></div><div class="cb" style="left:59px;top:14px"></div><div class="tag red" style="left:220px;top:7px;width:134.500px">Chi</div><div class="tx" style="left:370px;top:12px">Chi phí thuê văn phòng</div><div class="tag teal" style="left:619px;top:7px;width:135px">Hoàn thành</div><div class="tx" style="left:761px;top:12px;width:117.500px;text-align:right">01/06/2024</div><div class="tag red" style="left:893px;top:7px;width:144px;text-align:right">2,000,000</div></div>
<div class="row alt" style="top:297px;height:42px"><div class="n" style="top:11px">188</div><div class="nb"></div><div class="cb" style="left:59px;top:13px"></div><div class="tag red" style="left:220px;top:6px;width:134.500px">Chi</div><div class="tx" style="left:370px;top:11px">Chi phí phúc lợi</div><div class="tag teal" style="left:619px;top:6px;width:135px">Hoàn thành</div><div class="tx" style="left:761px;top:11px;width:117.500px;text-align:right">01/08/2024</div><div class="tag red" style="left:893px;top:6px;width:144px;text-align:right">488,000</div></div>
<div class="row" style="top:339px;height:43px"><div class="n" style="top:12px">189</div><div class="nb"></div><div class="cb" style="left:59px;top:14px"></div><div class="tag red" style="left:220px;top:7px;width:134.500px">Chi</div><div class="tx" style="left:370px;top:12px">Chi phí thuế, bảo hiểm xã hội</div><div class="tag teal" style="left:619px;top:7px;width:135px">Hoàn thành</div><div class="tx" style="left:761px;top:12px;width:117.500px;text-align:right">01/01/2024</div><div class="tag red" style="left:893px;top:7px;width:144px;text-align:right">2,000,000</div></div>
</div>
<div class="abs" style="left:245px;top:764px;width:1644px;height:11px;background:#fdfdfd"></div>
<div class="abs" style="left:246px;top:764px;width:834px;height:10px;background:#d0d0d0;border-radius:2px 0 0 2px"></div>
<div class="abs" style="left:245px;top:774px;width:1652px;height:44px;background:#fafafa;border-top:1px solid #dadada;border-bottom:1px solid #e6e8e9"></div>
<div class="abs" style="left:1130px;top:787px;width:151px;text-align:right;font-size:15px;font-weight:bold;line-height:20px;color:#1a1a1a;white-space:nowrap">Tổng: 1,256,408,731</div>
<div class="abs" style="left:1889px;top:775px;width:1px;height:43px;background:#e3e5e6"></div>
<div class="abs" style="left:1889px;top:392px;width:8px;height:372px;background:#fff"></div>
<div class="abs" style="left:1889px;top:392px;width:8px;height:162px;background:#cfcfcf"></div>
<div class="abs" style="left:245px;top:818px;width:1652px;height:41px;background:#fafafa;border-bottom:1px solid #e9e9e9"></div>
<div id="pager">
<svg style="left:268px;top:14px" width="10" height="11" viewBox="0 0 10 11"><path d="M0.500 0.500h1.800v10H0.500z M9.500 0.800v9.400L2.800 5.500z"/></svg>
<div class="circ" style="left:295px;background:#e9e9e9"></div>
<svg style="left:308px;top:14px" width="9" height="11" viewBox="0 0 9 11"><path d="M8.500 0.800v9.400L0.800 5.500z"/></svg>
<div class="dots" style="left:333px">...</div>
<div class="pn" style="left:372px">6</div><div class="pn" style="left:410px">7</div><div class="pn" style="left:449px">8</div><div class="pn" style="left:488px">9</div>
<div class="circ" style="left:527px;background:#cfe3cf"></div>
<div class="pn" style="left:527px;color:#3c8a45">10</div>
<div class="dots" style="left:565px">...</div>
<svg style="left:617px;top:14px" width="9" height="11" viewBox="0 0 9 11"><path d="M0.500 0.800v9.400L8.200 5.500z"/></svg>
<svg style="left:655px;top:14px" width="10" height="11" viewBox="0 0 10 11"><path d="M7.700 0.500h1.800v10H7.700z M0.500 0.800v9.400L7.200 5.500z"/></svg>
<div class="abs" style="left:692px;top:2px;width:80px;height:35px;background:#fff;border:1px solid #dcdcdc;border-radius:2px"></div>
<div class="abs" style="left:696px;top:10px;font-size:16px;color:#333">20</div>
<svg style="left:746px;top:15px;fill:#333" width="12" height="9" viewBox="0 0 12 9"><path d="M0.500 0.500h11L6 8.500z"/></svg>
<div class="abs" style="left:1600px;top:9px;width:259px;text-align:right;color:#8f8f8f;white-space:nowrap">181 - 200 của 256 dòng</div>
<svg style="left:1870px;top:10px;fill:none;stroke:#7aa7cf;stroke-width:1.800" width="19" height="20" viewBox="0 0 19 20"><path d="M11.500 4.200A7.200 7.200 0 1 0 16.700 11"/><path d="M9 0.800 L13.200 4.200 L9.400 7.600" stroke-linejoin="round"/></svg>
</div>
</body>
</html>
